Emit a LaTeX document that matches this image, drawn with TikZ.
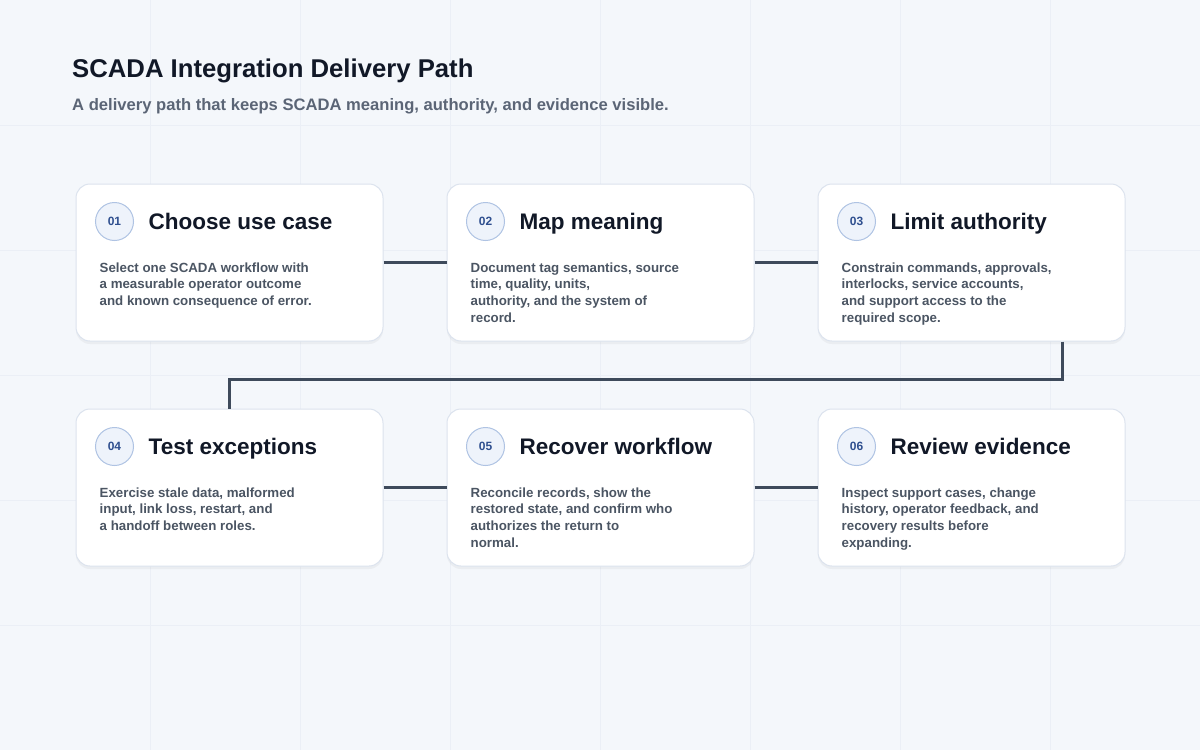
\documentclass[tikz,border=0pt]{standalone}
\usepackage{fontspec}
\setmainfont{Liberation Sans}
\usepackage{xcolor}
\usetikzlibrary{positioning}
\usetikzlibrary{shadows}
\definecolor{bgcol}{HTML}{F4F7FB}
\definecolor{gridcol}{HTML}{EBEFF6}
\definecolor{titlecol}{HTML}{111827}
\definecolor{subcol}{HTML}{5B6576}
\definecolor{bodycol}{HTML}{4B5563}
\definecolor{linecol}{HTML}{3E4A5B}
\definecolor{cardline}{HTML}{DCE3EE}
\definecolor{numfill}{HTML}{EEF3FB}
\definecolor{numline}{HTML}{AFC3E3}
\definecolor{numtext}{HTML}{2F4F8F}
\tikzset{
    card/.style = {rectangle, rounded corners=14pt, draw=cardline, fill=white, line width=1pt,
                   minimum width=307pt, minimum height=157pt, inner sep=0pt,
                   drop shadow={shadow xshift=0pt, shadow yshift=-3pt, opacity=0.08}},
    num/.style = {circle, draw=numline, fill=numfill, minimum size=38pt, inner sep=0pt, line width=1pt,
                  text=numtext, font=\fontsize{12}{12}\selectfont\bfseries},
    head/.style = {anchor=base west, inner sep=0pt, text=titlecol, font=\fontsize{22.5}{22.5}\selectfont\bfseries},
    body/.style = {anchor=north west, inner sep=0pt, align=left, text=bodycol,
                   font=\fontsize{13.3}{16.6}\selectfont\bfseries},
    link/.style = {draw=linecol, line width=3pt}
}
\begin{document}
\begin{tikzpicture}[x=1pt, y=-1pt]
    \useasboundingbox (0,0) rectangle (1200,750);
    \fill[bgcol] (0,0) rectangle (1200,750);
    % faint background grid
    \foreach \gx in {150,300,...,1050} \draw[gridcol, line width=0.8pt] (\gx,0) -- (\gx,750);
    \foreach \gy in {125,250,...,625} \draw[gridcol, line width=0.8pt] (0,\gy) -- (1200,\gy);

    \node[anchor=base west, inner sep=0pt, text=titlecol, font=\fontsize{25.7}{26}\selectfont\bfseries]
        (title) at (72,77) {SCADA Integration Delivery Path};
    \node[anchor=base west, inner sep=0pt, text=subcol, font=\fontsize{16.6}{17}\selectfont\bfseries]
        (subtitle) at (72,110) {A delivery path that keeps SCADA meaning, authority, and evidence visible.};

    % cards
    \foreach \i/\cx/\cy/\nr/\hd/\tx in {
        1/229.5/262.5/01/{Choose use case}/{Select one SCADA workflow with\\a measurable operator outcome\\and known consequence of error.},
        2/600.5/262.5/02/{Map meaning}/{Document tag semantics, source\\time, quality, units,\\authority, and the system of\\record.},
        3/971.5/262.5/03/{Limit authority}/{Constrain commands, approvals,\\interlocks, service accounts,\\and support access to the\\required scope.},
        4/229.5/487.5/04/{Test exceptions}/{Exercise stale data, malformed\\input, link loss, restart, and\\a handoff between roles.},
        5/600.5/487.5/05/{Recover workflow}/{Reconcile records, show the\\restored state, and confirm who\\authorizes the return to\\normal.},
        6/971.5/487.5/06/{Review evidence}/{Inspect support cases, change\\history, operator feedback, and\\recovery results before\\expanding.}} {
        \node[card] (c\i) at (\cx,\cy) {};
        \node[num] (n\i) at ([xshift=39pt, yshift=-38pt]c\i.north west) {\nr};
        \node[head] (h\i) at ([xshift=34pt, yshift=-8pt]n\i.center) {\hd};
        \node[body] (b\i) at ([xshift=24pt, yshift=-79pt]c\i.north west) {\tx};
    }

    % connectors
    \draw[link] (c1.east) -- (c2.west);
    \draw[link] (c2.east) -- (c3.west);
    \draw[link] (c4.east) -- (c5.west);
    \draw[link] (c5.east) -- (c6.west);
    \coordinate (turnA) at (1062,379);
    \coordinate (turnB) at (229,379);
    \draw[link] (c3.south -| turnA) -- (turnA) -- (turnB) -- (c4.north -| turnB);
\end{tikzpicture}
\end{document}
